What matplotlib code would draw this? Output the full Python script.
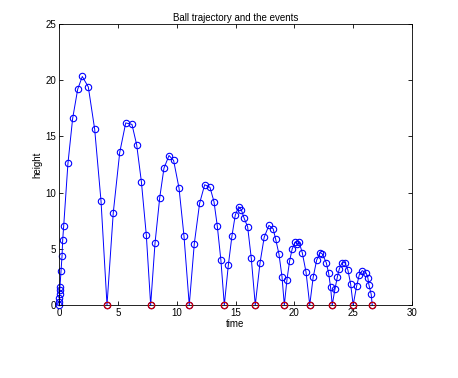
import matplotlib
matplotlib.use("Agg")
import matplotlib.pyplot as plt

# trajectory samples (time, height)
t = [0.0, 0.012, 0.03, 0.048, 0.066, 0.08, 0.17, 0.26, 0.31, 0.40, 0.76, 1.16, 1.59, 1.98, 2.49, 3.03, 3.57, 4.08,
     4.61, 5.16, 5.67, 6.20, 6.60, 7.00, 7.42, 7.79,
     8.16, 8.56, 8.92, 9.35, 9.74, 10.20, 10.62, 11.07,
     11.50, 11.95, 12.38, 12.83, 13.17, 13.45, 13.76, 14.05,
     14.39, 14.70, 14.98, 15.27, 15.49, 15.74, 16.03, 16.34, 16.68,
     17.08, 17.44, 17.84, 18.20, 18.41, 18.69, 18.95, 19.15,
     19.37, 19.60, 19.82, 20.08, 20.25, 20.40, 20.67, 20.99, 21.31,
     21.60, 21.90, 22.20, 22.37, 22.71, 22.91, 23.08, 23.22,
     23.45, 23.65, 23.82, 24.05, 24.30, 24.55, 24.78, 25.00,
     25.29, 25.52, 25.77, 26.11, 26.25, 26.34, 26.53, 26.62]
h = [0.0, 0.25, 0.6, 0.95, 1.3, 1.6, 3.0, 4.4, 5.74, 7.05, 12.6, 16.6, 19.2, 20.33, 19.4, 15.65, 9.26, 0.0,
     8.19, 13.57, 16.2, 16.07, 14.26, 10.98, 6.22, 0.0,
     5.5, 9.55, 12.17, 13.3, 12.86, 10.4, 6.16, 0.0,
     5.47, 9.05, 10.7, 10.47, 9.2, 7.05, 3.96, 0.0,
     3.54, 6.16, 8.0, 8.75, 8.48, 7.7, 6.96, 4.17, 0.0,
     3.72, 6.04, 7.08, 6.78, 5.87, 4.55, 2.53, 0.0,
     2.23, 3.93, 5.0, 5.6, 5.47, 5.6, 4.67, 2.95, 0.0,
     2.47, 4.0, 4.67, 4.55, 3.78, 2.86, 1.58, 0.0,
     1.4, 2.47, 3.2, 3.75, 3.78, 3.12, 1.9, 0.0,
     1.67, 2.68, 3.06, 2.83, 2.41, 1.79, 0.96, 0.0]

# bounce events
te = [4.08, 7.79, 11.07, 14.05, 16.68, 19.15, 21.31, 23.22, 25.00, 26.62]
ye = [0, 0, 0, 0, 0, 0, 0, 0, 0, 0]

plt.rcParams["font.family"] = ["Liberation Sans", "DejaVu Sans"]
plt.rcParams["font.size"] = 7

fig = plt.figure(figsize=(4.58, 3.78), dpi=100)
ax = fig.add_axes([59 / 458, 73 / 378, 353 / 458, 281 / 378])

ax.plot(t, h, "-o", color="blue", lw=0.7, markersize=4.6,
        markerfacecolor="none", markeredgewidth=0.8, clip_on=False)
ax.plot(te, ye, "o", color="#cc0000", markersize=4.6,
        markerfacecolor="none", markeredgewidth=0.9, clip_on=False, zorder=3)

ax.set_xlim(0, 30)
ax.set_ylim(0, 25)
ax.set_xticks([0, 5, 10, 15, 20, 25, 30])
ax.set_yticks([0, 5, 10, 15, 20, 25])
ax.tick_params(direction="in", top=True, right=True, length=3, width=0.6, pad=2)
for s in ax.spines.values():
    s.set_linewidth(0.6)

ax.set_title("Ball trajectory and the events", fontsize=7, pad=2)
ax.set_xlabel("time", labelpad=1)
ax.set_ylabel("height", labelpad=2)

fig.savefig("out.png", dpi=100)
